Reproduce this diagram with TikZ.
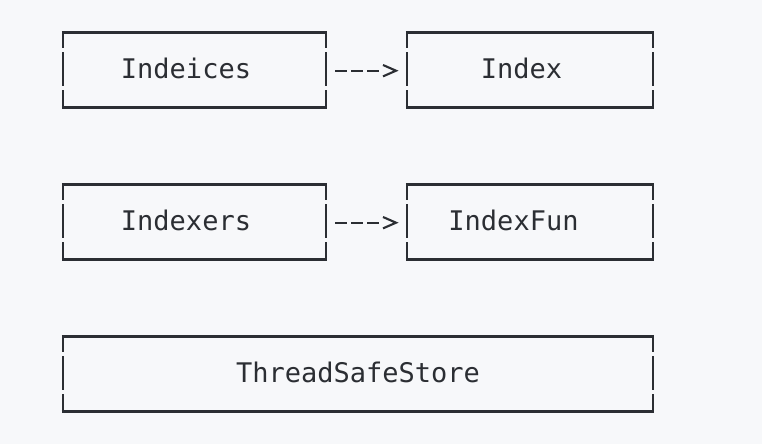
\documentclass[tikz,border=0pt]{standalone}
\usepackage{fontspec}
\setmonofont{DejaVu Sans Mono}
\usetikzlibrary{calc}
\definecolor{bg}{HTML}{F7F8FA}
\definecolor{ink}{HTML}{2B2E33}
\tikzset{
  box/.style={draw=none,minimum height=75pt,inner sep=0pt,outer sep=0pt},
  lbl/.style={font=\ttfamily\fontsize{27}{32}\selectfont,text=ink,anchor=base,inner sep=0pt},
  edge/.style={draw=ink,line width=2.3pt},
  link/.style={draw=ink,line width=2.1pt,dash pattern=on 12pt off 4pt,shorten <=9pt,shorten >=27pt},
  chev/.style={draw=ink,line width=2.1pt,line join=miter}
}
\newcommand{\asciibox}[1]{%
  \draw[edge] ($(#1.north west)+(-1.15pt,0)$) -- ($(#1.north east)+(1.15pt,0)$);
  \draw[edge] ($(#1.south west)+(-1.15pt,0)$) -- ($(#1.south east)+(1.15pt,0)$);
  \foreach \s in {west,east}{
    \draw[edge,line cap=butt] (#1.north \s) -- ++(0,-16pt);
    \draw[edge,line cap=butt] ($(#1.north \s)+(0,-20pt)$) -- ++(0,-34pt);
    \draw[edge,line cap=butt] ($(#1.north \s)+(0,-58pt)$) -- (#1.south \s);
  }%
}
\newcommand{\asciiarrow}[2]{%
  \draw[link] ($(#1.east)+(0,-0.7pt)$) -- ($(#2.west)+(0,-0.7pt)$);
  \draw[chev] ($(#2.west)+(-24pt,5pt)$) -- ($(#2.west)+(-11pt,-0.7pt)$) -- ($(#2.west)+(-24pt,-6.4pt)$);
}
\begin{document}
\begin{tikzpicture}[x=1pt,y=1pt]
\fill[bg] (0,0) rectangle (762,444);
\useasboundingbox (0,0) rectangle (762,444);
% boxes
\node[box,minimum width=263pt] (b1) at (194.5,374) {};
\node[box,minimum width=246pt] (b2) at (530,374) {};
\node[box,minimum width=263pt] (b3) at (194.5,222) {};
\node[box,minimum width=246pt] (b4) at (530,222) {};
\node[box,minimum width=590pt] (b5) at (358,70) {};
\asciibox{b1}\asciibox{b2}\asciibox{b3}\asciibox{b4}\asciibox{b5}
% labels
\node[lbl] (t1) at (186,365.7) {Indeices};
\node[lbl] (t2) at (521.5,365.7) {Index};
\node[lbl] (t3) at (186,213.7) {Indexers};
\node[lbl] (t4) at (513.5,213.7) {IndexFun};
\node[lbl] (t5) at (358,61.7) {ThreadSafeStore};
% arrows
\asciiarrow{b1}{b2}
\asciiarrow{b3}{b4}
\end{tikzpicture}
\end{document}
